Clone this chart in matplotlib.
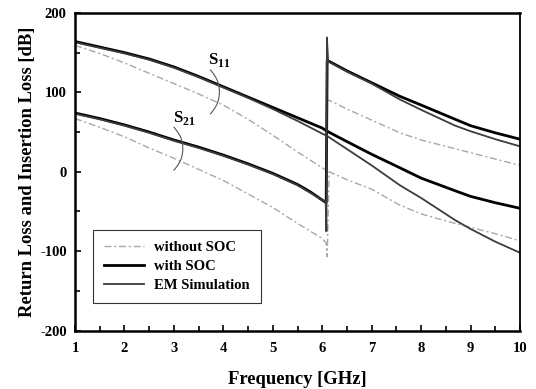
import numpy as np
import matplotlib
matplotlib.use("Agg")
import matplotlib.pyplot as plt
from matplotlib.ticker import MultipleLocator

plt.rcParams['font.family'] = ['Liberation Serif', 'DejaVu Serif']
plt.rcParams['mathtext.fontset'] = 'custom'
plt.rcParams['mathtext.rm'] = 'Liberation Serif'
plt.rcParams['mathtext.bf'] = 'Liberation Serif:bold'
plt.rcParams['axes.unicode_minus'] = False

# ---- data ----
# with SOC
soc_s11_x = [1, 1.5, 2, 2.5, 3, 3.5, 4, 4.5, 5, 5.5, 6, 6.1, 6.5, 7, 7.57, 8, 8.69, 9, 9.5, 10]
soc_s11_y = [164, 157, 150, 142, 132, 120, 107, 94, 81, 68, 55, 51, 38, 22, 5, -8, -24, -31, -39, -46]
soc_s21_x = [1, 1.5, 2, 2.5, 3, 3.5, 4, 4.5, 5, 5.5, 5.75, 6.08, 6.1, 6.14, 6.5, 6.9, 7.57, 8, 8.69, 9, 9.5, 10]
soc_s21_y = [74, 67, 59, 50, 40, 31, 21, 10, -2, -16, -25, -39, 140, 139, 127, 115, 95, 84, 66, 58, 49, 41]

# EM simulation
em_s11_x = [1, 1.5, 2, 2.5, 3, 3.5, 4, 4.5, 5, 5.5, 6, 6.1, 7, 7.57, 8, 8.69, 9, 9.5, 10]
em_s11_y = [163, 156, 149, 141, 131, 119, 106, 93, 79, 64, 48, 45, 8, -17, -33, -61, -72, -88, -102]
em_s21_x = [1, 1.5, 2, 2.5, 3, 3.5, 4, 4.5, 5, 5.5, 6.07, 6.085, 6.095, 6.12, 6.5, 7, 7.57, 8, 8.69, 9, 9.5, 10]
em_s21_y = [73, 66, 58, 49, 39, 30, 20, 9, -3, -17, -38, -75, 169, 139, 126, 111, 91, 78, 58, 51, 41, 32]

# without SOC
wo_s11_x = [1, 1.5, 2, 2.5, 3, 3.5, 4, 4.5, 5, 5.5, 6, 6.08, 6.1, 6.14, 6.5, 7, 7.57, 8, 8.5, 9, 9.5, 10]
wo_s11_y = [159, 149, 137, 124, 111, 98, 84, 66, 46, 25, 5, 2, 90, 90, 79, 65, 49, 40, 32, 24, 16, 8]
wo_s21_x = [1, 1.5, 2, 2.5, 3, 3.5, 4, 4.5, 5, 5.5, 6, 6.08, 6.1, 6.14, 6.5, 7, 7.57, 8, 8.5, 9, 9.5, 10]
wo_s21_y = [67, 56, 44, 30, 17, 3, -11, -28, -45, -65, -84, -90, -107, 0, -10, -22, -42, -53, -62, -70, -78, -87]

xticks = [1, 2, 3, 4, 5, 6, 7, 8, 9, 10]
yticks = [-200, -100, 0, 100, 200]

W, H = 536, 389
fig = plt.figure(figsize=(W/100, H/100), dpi=100)
ax_l, ax_r, ax_t, ax_b = 75, 520, 12.9, 330.6
ax = fig.add_axes([ax_l/W, 1 - ax_b/H, (ax_r-ax_l)/W, (ax_b-ax_t)/H])

wo_style = dict(color='#a8a8a8', lw=1.0, ls=(0, (5, 2, 1.5, 2)))
soc_style = dict(color='black', lw=2.0, ls='-')
em_style = dict(color='#3c3c3c', lw=1.3, ls='-')

ax.plot(wo_s11_x, wo_s11_y, **wo_style, label='without SOC')
ax.plot(wo_s21_x, wo_s21_y, **wo_style)
ax.plot(soc_s11_x, soc_s11_y, **soc_style, label='with SOC')
ax.plot(soc_s21_x, soc_s21_y, **soc_style)
ax.plot(em_s11_x, em_s11_y, **em_style, label='EM Simulation')
ax.plot(em_s21_x, em_s21_y, **em_style)

# braces
t = np.linspace(0, 1, 60)
def brace(x0, ytop, ybot, w):
    yy = ytop + (ybot - ytop) * t
    xx = x0 + w * np.sin(np.pi * t) ** 0.8 - 0.03 * (np.abs(np.cos(np.pi * t)) ** 8)
    ax.plot(xx, yy, color='#555555', lw=0.8)
brace(3.77, 128, 73, 0.15)
brace(3.03, 56, 2, 0.15)

ax.text(3.91, 141, r'$\mathbf{S}_{\mathbf{11}}$', fontsize=12, ha='center', va='center')
ax.text(3.2, 68, r'$\mathbf{S}_{\mathbf{21}}$', fontsize=12, ha='center', va='center')

ax.set_xlim(1, 10)
ax.set_ylim(-200, 200)
ax.set_xticks(xticks)
ax.set_yticks(yticks)
ax.xaxis.set_minor_locator(MultipleLocator(0.5))
ax.yaxis.set_minor_locator(MultipleLocator(50))
ax.tick_params(which='both', direction='in', top=False, right=False, width=1.2)
ax.tick_params(which='major', length=4, labelsize=10.5)
ax.tick_params(axis='y', which='major', pad=6)
ax.tick_params(axis='x', which='major', pad=8)
ax.tick_params(which='minor', length=3.5)
for lab in ax.get_xticklabels() + ax.get_yticklabels():
    lab.set_fontweight('bold')
for s in ax.spines.values():
    s.set_linewidth(1.8)
ax.spines['right'].set_linewidth(1.3)

ax.set_xlabel('Frequency [GHz]', fontsize=13.4, fontweight='bold', labelpad=12)
ax.set_ylabel('Return Loss and Insertion Loss [dB]', fontsize=13.4, fontweight='bold', labelpad=3)

leg = ax.legend(loc='lower left', bbox_to_anchor=(0.041, 0.086), borderaxespad=0,
                frameon=True, fancybox=False, edgecolor='black',
                prop=dict(weight='bold', size=10.5), handlelength=2.75,
                handletextpad=0.7, labelspacing=0.42, borderpad=0.75)
leg.get_frame().set_linewidth(0.8)

fig.savefig('out.png', dpi=100)
